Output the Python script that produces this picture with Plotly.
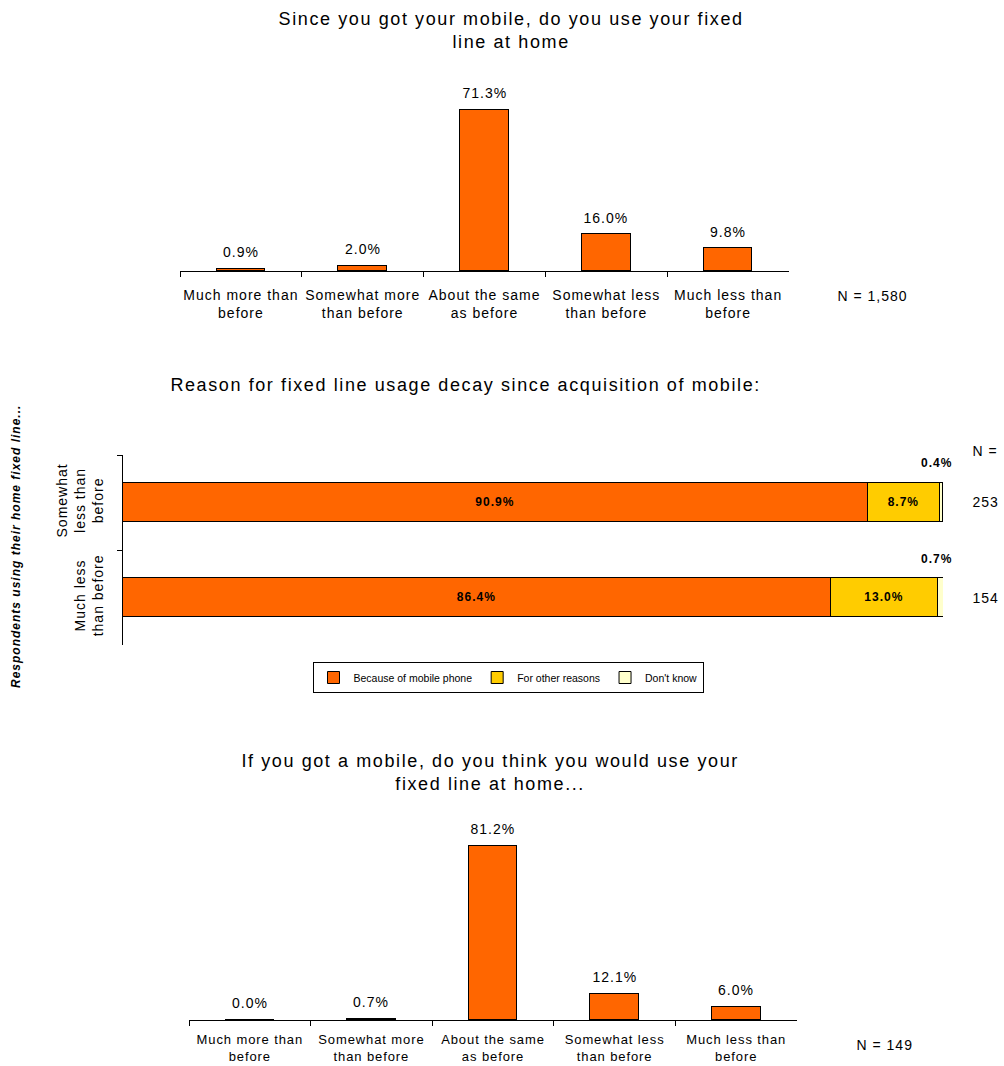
import plotly.graph_objects as go

# Response categories shared by the two column charts
categories = [
    "Much more than<br>before",
    "Somewhat more<br>than before",
    "About the same<br>as before",
    "Somewhat less<br>than before",
    "Much less than<br>before",
]
usage_since_mobile = [0.9, 2.0, 71.3, 16.0, 9.8]
usage_if_mobile = [0.0, 0.7, 81.2, 12.1, 6.0]

# Reasons for lower fixed-line use (stacked 100% bars)
decline_groups = ["Somewhat<br>less than<br>before", "Much less<br>than before"]
because_mobile = [90.9, 86.4]
other_reasons = [8.7, 13.0]
dont_know = [0.4, 0.7]
group_sizes = [253, 154]

n_top = "N = 1,580"
n_bottom = "N = 149"

ORANGE = "#FF6600"
YELLOW = "#FFCC00"
CREAM = "#FFFFCC"
FONT = "Liberation Sans, Arial, sans-serif"

W, H = 1004, 1066


def px_x(p):
    return p / W


def px_y(p):
    return 1 - p / H


fig = go.Figure()

# ---- top column chart ----
fig.add_trace(go.Bar(
    x=categories, y=usage_since_mobile, width=0.4,
    marker=dict(color=ORANGE, line=dict(color="black", width=1)),
    xaxis="x", yaxis="y", showlegend=False, hoverinfo="skip",
))
# ---- bottom column chart ----
fig.add_trace(go.Bar(
    x=categories, y=usage_if_mobile, width=0.4,
    marker=dict(color=ORANGE, line=dict(color="black", width=1)),
    xaxis="x2", yaxis="y2", showlegend=False, hoverinfo="skip",
))

# ---- middle stacked bar chart ----
for name, vals, color, labelled in [
    ("Because of mobile phone", because_mobile, ORANGE, True),
    ("For other reasons", other_reasons, YELLOW, True),
    ("Don't know", dont_know, CREAM, False),
]:
    fig.add_trace(go.Bar(
        y=decline_groups, x=vals, orientation="h", name=name, width=0.41,
        marker=dict(color=color, line=dict(color="black", width=1)),
        text=[f"<b>{v:.1f}%</b>" for v in vals] if labelled else None,
        textposition="inside" if labelled else "none",
        insidetextanchor="middle",
        textfont=dict(size=12, color="black", family=FONT),
        constraintext="none",
        xaxis="x3", yaxis="y3", hoverinfo="skip",
    ))

annotations = []

# value labels above the columns
for xa, ya, vals in [("x", "y", usage_since_mobile), ("x2", "y2", usage_if_mobile)]:
    for c, v in zip(categories, vals):
        annotations.append(dict(
            x=c, y=v, xref=xa, yref=ya, text=f"{v:.1f}%", showarrow=False,
            yanchor="bottom", yshift=7, font=dict(size=14, family=FONT, color="black"),
        ))

# "Don't know" values above the thin end segments
for g, v in zip(decline_groups, dont_know):
    annotations.append(dict(
        x=100, y=g, xref="x3", yref="y3", text=f"<b>{v:.1f}%</b>", showarrow=False,
        xanchor="right", xshift=10, yanchor="middle", yshift=39,
        font=dict(size=12, family=FONT, color="black"),
    ))

# group sizes on the right of the stacked bars
annotations.append(dict(x=px_x(972), y=px_y(451), xref="paper", yref="paper", text="N =",
                        showarrow=False, xanchor="left", yanchor="middle",
                        font=dict(size=14, family=FONT, color="black")))
for g, n in zip(decline_groups, group_sizes):
    annotations.append(dict(
        x=1.0, y=g, xref="paper", yref="y3", text=str(n), showarrow=False,
        xanchor="left", xshift=-32, yanchor="middle",
        font=dict(size=14, family=FONT, color="black"),
    ))

# chart titles
for text, cx, cy in [
    ("Since you got your mobile, do you use your fixed<br>line at home", 511, 30),
    ("Reason for fixed line usage decay since acquisition of mobile:", 465, 385),
    ("If you got a mobile, do you think you would use your<br>fixed line at home...", 490, 772),
]:
    annotations.append(dict(x=px_x(cx), y=px_y(cy), xref="paper", yref="paper", text=text,
                            showarrow=False, xanchor="center", yanchor="middle",
                            font=dict(size=18, family=FONT, color="black")))

# sample sizes for the column charts
annotations.append(dict(x=px_x(872), y=px_y(296), xref="paper", yref="paper", text=n_top,
                        showarrow=False, xanchor="center", yanchor="middle",
                        font=dict(size=14, family=FONT, color="black")))
annotations.append(dict(x=px_x(885), y=px_y(1045), xref="paper", yref="paper", text=n_bottom,
                        showarrow=False, xanchor="center", yanchor="middle",
                        font=dict(size=14, family=FONT, color="black")))

# rotated side label
annotations.append(dict(x=px_x(16), y=px_y(547), xref="paper", yref="paper",
                        text="<b><i>Respondents using their home fixed line...</i></b>",
                        showarrow=False, textangle=-90, xanchor="center", yanchor="middle",
                        font=dict(size=12, family=FONT, color="black")))

cat_axis = dict(
    type="category", range=[-0.5, 4.5], showline=True, linecolor="black", linewidth=1,
    ticks="outside", tickson="boundaries", ticklen=5, tickcolor="black",
    showgrid=False, zeroline=False, fixedrange=True,
)
val_axis = dict(visible=False, showgrid=False, zeroline=False, fixedrange=True)

fig.update_layout(
    width=W, height=H, margin=dict(l=0, r=0, t=0, b=0),
    paper_bgcolor="white", plot_bgcolor="white",
    barmode="stack", bargap=0,
    font=dict(family=FONT, color="black"),
    xaxis=dict(cat_axis, domain=[px_x(180), px_x(789)], anchor="y",
               tickfont=dict(size=14, family=FONT), ticklabelstandoff=11),
    yaxis=dict(val_axis, domain=[px_y(271), px_y(90.4)], range=[0, 80], anchor="x"),
    xaxis2=dict(cat_axis, domain=[px_x(189), px_x(797)], anchor="y2",
                tickfont=dict(size=13, family=FONT), ticklabelstandoff=7),
    yaxis2=dict(val_axis, domain=[px_y(1020), px_y(827)], range=[0, 90], anchor="x2"),
    xaxis3=dict(range=[0, 100], domain=[px_x(123), px_x(943)], anchor="y3",
                visible=False, fixedrange=True),
    yaxis3=dict(type="category", range=[1.5, -0.5], domain=[px_y(645), px_y(455)],
                anchor="x3", showline=True, linecolor="black", linewidth=1,
                ticks="outside", tickson="boundaries", ticklen=5, tickcolor="black",
                tickangle=-90, tickfont=dict(size=14, family=FONT), ticklabelstandoff=13,
                showgrid=False, zeroline=False, fixedrange=True),
    legend=dict(orientation="h", x=px_x(508), xanchor="center", y=px_y(662), yanchor="top",
                bordercolor="black", borderwidth=1, bgcolor="white",
                font=dict(size=10.5, family=FONT), itemwidth=30, traceorder="normal"),
    annotations=annotations,
)

# Slightly tracked-out lettering, keyed on the font size of each text role
tracking_css = (
    "text[style*='font-size: 18px']{letter-spacing:1.6px}"
    "text[style*='font-size: 14px']{letter-spacing:1px}"
    "text[style*='font-size: 13px']{letter-spacing:0.9px}"
    "text[style*='font-size: 12px']{letter-spacing:1px}"
)
post = (
    "var s=document.createElement('style');"
    f"s.textContent=\"{tracking_css}\";"
    "document.head.appendChild(s);"
)

fig.write_html("out.html", post_script=post)
